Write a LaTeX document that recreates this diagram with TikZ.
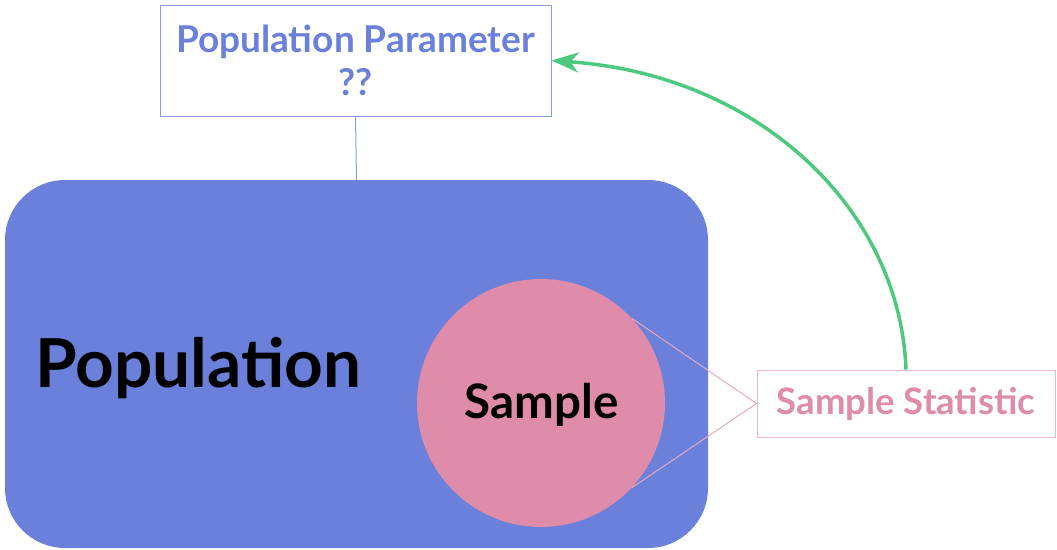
\documentclass[tikz,border=0pt]{standalone}
\usepackage{fontspec}
\setmainfont{Lato}
\usetikzlibrary{arrows.meta}
\definecolor{popblue}{HTML}{6A80DB}
\definecolor{parborder}{HTML}{8A9BE6}
\definecolor{samppink}{HTML}{DF8BAA}
\definecolor{statborder}{HTML}{EDB8CC}
\definecolor{linkpink}{HTML}{E8A8C0}
\definecolor{arrgreen}{HTML}{4CC97E}
\begin{document}
\begin{tikzpicture}[x=1pt,y=-1pt,
  popbox/.style={fill=popblue, rounded corners=60pt, minimum width=703pt, minimum height=368pt, inner sep=0pt},
  sampcirc/.style={circle, fill=samppink, minimum size=248pt, inner sep=0pt},
  parbox/.style={draw=parborder, line width=1pt, minimum width=391pt, minimum height=111pt, inner sep=0pt, align=center, text=popblue, font=\bfseries\fontsize{37}{43}\selectfont},
  statbox/.style={draw=statborder, line width=1pt, minimum width=298pt, minimum height=67pt, inner sep=0pt, text=samppink, font=\bfseries\fontsize{36.5}{43}\selectfont},
  poptext/.style={font=\bfseries\fontsize{67.5}{76}\selectfont, text=black},
  samptext/.style={font=\bfseries\fontsize{47.5}{56}\selectfont, text=black},
  greenarrow/.style={draw=arrgreen, line width=3.5pt, -{Stealth[length=27pt,width=20pt,inset=8pt]}}
]
\useasboundingbox (0,0) rectangle (1057,549);
\node[popbox] (pop) at (356.5,364) {};
\node[poptext] (poplabel) at (198.5,368) {Population};
\node[sampcirc] (sample) at (541,403) {};
\node[samptext] (samplabel) at (541.5,405) {Sample};
\node[parbox] (param) at (355.5,60.5) {Population Parameter\\??};
\node[statbox] (stat) at (906,403.5) {Sample Statistic};
\draw[parborder, line width=1pt] (param.south) -- (pop.north);
\draw[linkpink, line width=1pt] (sample.43) -- (stat.west) -- (sample.-43);
\draw[greenarrow] (stat.north) .. controls (900,210) and (760,75) .. (param.east);
\end{tikzpicture}
\end{document}
